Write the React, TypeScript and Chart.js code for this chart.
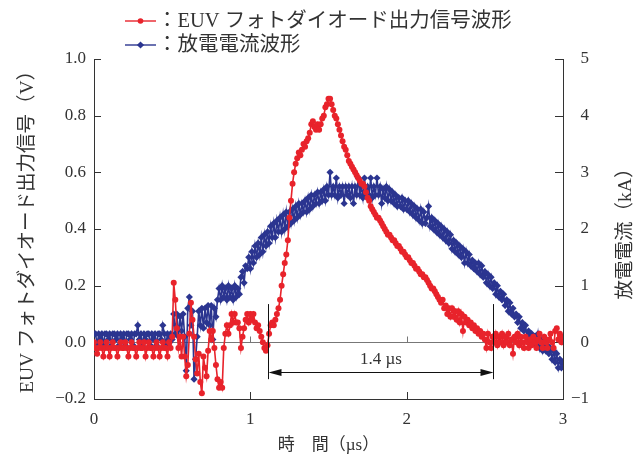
import React, { useEffect, useRef } from "react";
import { Chart, registerables } from "chart.js";

Chart.register(...registerables);

// ---- data ----
const timeStart = 0; // µs
const timeStep = 0.01; // µs
const xTickValues = [0, 1, 2, 3];
const leftTickValues = [-0.2, 0, 0.2, 0.4, 0.6, 0.8, 1.0];
const rightTickValues = [-1, 0, 1, 2, 3, 4, 5];

const euvLabel = "：EUV フォトダイオード出力信号波形";
const currentLabel = "：放電電流波形";
const xTitle = "時　間（µs）";
const leftTitle = "EUV フォトダイオード出力信号（V）";
const rightTitle = "放電電流（kA）";
const spanLabel = "1.4 µs";
const spanStart = 1.11; // µs
const spanEnd = 2.55; // µs

// EUV photodiode signal (V), t = 0.00 ... 3.00 µs
const euvSignal = [
  0.00, -0.02, -0.04, -0.02, 0.00, -0.02, -0.05, -0.02, 0.00, -0.02,
  -0.05, -0.02, 0.00, -0.02, -0.02, -0.05, -0.02, 0.00, -0.02, -0.02,
  0.00, -0.02, -0.05, -0.02, 0.00, -0.02, -0.02, -0.05, -0.02, 0.00,
  -0.02, -0.02, 0.00, -0.05, -0.02, 0.00, -0.02, -0.02, -0.05, -0.02,
  0.00, -0.02, -0.05, -0.02, 0.00, -0.02, -0.02, -0.05, 0.00, -0.02,
  0.02, 0.21, 0.15, 0.05, -0.02, 0.02, -0.05, 0.02, -0.05, -0.12,
  -0.08, 0.03, 0.14, 0.08, 0.02, -0.06, -0.11, -0.04, -0.14, -0.18,
  -0.05, -0.09, -0.12, -0.03, 0.04, 0.01, 0.04, -0.02, -0.08, -0.13,
  -0.16, -0.14, -0.16, -0.02, 0.03, 0.06, 0.03, 0.06, 0.10, 0.07,
  0.10, 0.07, 0.07, 0.05, -0.02, 0.02, 0.05, 0.08, 0.10, 0.07,
  0.10, 0.08, 0.10, 0.07, 0.05, 0.06, 0.04, 0.02, 0.00, -0.02,
  -0.03, -0.01, 0.03, 0.06, 0.07, 0.06, 0.08, 0.10, 0.12, 0.15,
  0.20, 0.24, 0.28, 0.31, 0.36, 0.44, 0.50, 0.56, 0.60, 0.63,
  0.65, 0.67, 0.66, 0.68, 0.70, 0.69, 0.71, 0.72, 0.74, 0.77,
  0.78, 0.76, 0.75, 0.77, 0.75, 0.77, 0.79, 0.80, 0.83, 0.84,
  0.86, 0.86, 0.84, 0.82, 0.80, 0.79, 0.77, 0.75, 0.73, 0.71,
  0.69, 0.68, 0.66, 0.64, 0.63, 0.62, 0.61, 0.60, 0.59, 0.58,
  0.57, 0.56, 0.56, 0.55, 0.53, 0.51, 0.50, 0.48, 0.47, 0.46,
  0.45, 0.44, 0.44, 0.43, 0.42, 0.41, 0.40, 0.39, 0.38, 0.38,
  0.37, 0.36, 0.36, 0.35, 0.34, 0.34, 0.33, 0.32, 0.32, 0.31,
  0.30, 0.30, 0.29, 0.28, 0.28, 0.27, 0.26, 0.26, 0.25, 0.24,
  0.24, 0.23, 0.23, 0.22, 0.21, 0.20, 0.19, 0.19, 0.18, 0.17,
  0.16, 0.15, 0.14, 0.15, 0.12, 0.13, 0.10, 0.12, 0.09, 0.12,
  0.09, 0.11, 0.08, 0.11, 0.07, 0.10, 0.04, 0.09, 0.07, 0.08,
  0.06, 0.07, 0.05, 0.06, 0.04, 0.05, 0.03, 0.04, 0.02, 0.03,
  0.01, -0.02, 0.03, 0.00, -0.02, 0.02, 0.00, 0.03, -0.01, 0.02,
  0.00, 0.03, -0.01, 0.02, 0.00, 0.03, -0.01, 0.01, -0.04, 0.02,
  0.00, 0.03, -0.01, 0.02, 0.00, -0.02, 0.02, 0.00, -0.02, 0.01,
  -0.01, 0.02, 0.00, -0.02, 0.01, 0.03, 0.00, -0.02, 0.02, 0.00,
  -0.02, 0.01, 0.03, 0.00, -0.02, 0.04, 0.05, 0.01, 0.03, 0.00,
  0.02,
];

// Discharge current (kA), t = 0.00 ... 3.00 µs
const dischargeCurrent = [
  0.15, 0.15, -0.05, 0.15, 0.05, 0.15, -0.05, 0.15, 0.15, 0.05,
  0.15, -0.05, 0.15, 0.15, 0.05, 0.15, -0.05, 0.15, 0.05, 0.15,
  -0.05, 0.15, 0.15, 0.05, 0.15, -0.05, 0.15, 0.15, 0.30, 0.05,
  0.15, -0.05, 0.15, 0.05, 0.15, 0.15, -0.05, 0.15, 0.05, 0.15,
  -0.05, 0.15, 0.15, 0.05, 0.30, 0.15, -0.05, 0.15, 0.05, 0.15,
  0.05, 0.50, 0.15, 0.50, 0.10, 0.45, 0.20, 0.50, 0.10, -0.50,
  0.60, 0.80, 0.30, 0.55, -0.65, -0.30, 0.10, 0.55, 0.30, 0.60,
  0.25, 0.60, 0.35, 0.65, 0.30, 0.65, 0.05, 0.60, 0.45, 0.75,
  0.95, 0.75, 1.00, 0.80, 0.95, 0.75, 1.00, 0.80, 0.95, 0.75,
  1.00, 0.80, 0.95, 0.85, 1.15, 1.25, 1.05, 1.35, 1.30, 1.50,
  1.30, 1.60, 1.40, 1.70, 1.50, 1.75, 1.55, 1.85, 1.60, 1.90,
  1.70, 1.95, 1.75, 2.05, 1.85, 2.10, 1.85, 2.15, 1.95, 2.20,
  1.95, 2.25, 2.00, 2.30, 2.05, 2.30, 2.10, 2.35, 2.15, 2.40,
  2.20, 2.45, 2.25, 2.45, 2.30, 2.50, 2.30, 2.55, 2.35, 2.60,
  2.40, 2.60, 2.45, 2.65, 2.45, 2.65, 2.50, 2.70, 2.50, 2.75,
  2.60, 3.00, 2.60, 2.75, 2.60, 2.90, 2.55, 2.75, 2.60, 2.75,
  2.45, 2.75, 2.60, 2.75, 2.55, 2.75, 2.45, 2.75, 2.60, 2.90,
  2.60, 2.75, 2.55, 2.90, 2.60, 2.75, 2.60, 2.90, 2.55, 2.75,
  2.60, 2.90, 2.60, 2.75, 2.45, 2.70, 2.55, 2.75, 2.50, 2.70,
  2.50, 2.65, 2.45, 2.60, 2.40, 2.55, 2.40, 2.55, 2.35, 2.50,
  2.35, 2.50, 2.30, 2.45, 2.25, 2.40, 2.20, 2.35, 2.15, 2.35,
  2.10, 2.30, 2.10, 2.20, 2.40, 2.05, 2.20, 2.00, 2.15, 1.95,
  2.10, 1.90, 2.05, 1.85, 2.00, 1.80, 1.95, 1.75, 1.90, 1.65,
  1.80, 1.60, 1.75, 1.55, 1.70, 1.50, 1.65, 1.40, 1.60, 1.40,
  1.55, 1.35, 1.45, 1.30, 1.40, 1.25, 1.40, 1.20, 1.35, 1.15,
  1.25, 1.05, 1.20, 1.00, 1.15, 0.95, 1.05, 0.85, 1.00, 0.80,
  0.90, 0.75, 0.85, 0.65, 0.75, 0.55, 0.70, 0.50, 0.60, 0.45,
  0.50, 0.35, 0.45, 0.25, 0.35, 0.20, 0.30, 0.10, 0.20, 0.05,
  0.15, 0.00, 0.10, -0.05, 0.15, -0.10, 0.05, -0.15, 0.00, -0.15,
  -0.05, -0.20, -0.10, -0.30, -0.15, -0.35, -0.20, -0.45, -0.30, -0.45,
  -0.35,
];

// ---- styles ----
const RED = "#e8232b";
const BLUE = "#2b3590";
const INK = "#333333";
const SERIF = '"Liberation Serif", "Times New Roman", "Noto Sans CJK JP", serif';

const toPoints = (vals: number[]) =>
  vals.map((v, i) => ({ x: Number((timeStart + i * timeStep).toFixed(2)), y: v }));

const fmtMinus = (s: string) => s.replace("-", "\u2212");

function line(ctx: CanvasRenderingContext2D, x1: number, y1: number, x2: number, y2: number) {
  ctx.beginPath();
  ctx.moveTo(x1, y1);
  ctx.lineTo(x2, y2);
  ctx.stroke();
}

const decorPlugin = {
  id: "decor",
  beforeDatasetsDraw(chart: any) {
    const { ctx, chartArea: a, scales } = chart;
    const xs = scales.x, ys = scales.y, y1s = scales.y1;
    ctx.save();
    ctx.lineWidth = 1;
    // zero reference line
    const y0 = Math.round(ys.getPixelForValue(0)) + 0.5;
    ctx.strokeStyle = "#777";
    line(ctx, a.left, y0, a.right, y0);
    for (const t of [1, 2]) {
      const px = Math.round(xs.getPixelForValue(t)) + 0.5;
      line(ctx, px, y0, px, y0 - 6);
    }
    // inward tick marks
    ctx.strokeStyle = INK;
    for (const t of xTickValues) {
      const px = Math.round(xs.getPixelForValue(t)) + 0.5;
      line(ctx, px, a.bottom, px, a.bottom - 7);
    }
    for (const v of leftTickValues) {
      const py = Math.round(ys.getPixelForValue(v)) + 0.5;
      line(ctx, a.left, py, a.left + 7, py);
    }
    for (const v of rightTickValues) {
      const py = Math.round(y1s.getPixelForValue(v)) + 0.5;
      line(ctx, a.right, py, a.right - 8, py);
    }
    ctx.restore();
  },
  afterDatasetsDraw(chart: any) {
    const { ctx, scales } = chart;
    const xs = scales.x, ys = scales.y;
    ctx.save();
    ctx.strokeStyle = "#111";
    ctx.fillStyle = "#111";
    ctx.lineWidth = 1;
    const xa = Math.round(xs.getPixelForValue(spanStart)) + 0.5;
    const xb = Math.round(xs.getPixelForValue(spanEnd)) + 0.5;
    const yTop = ys.getPixelForValue(0.135);
    const yBot = ys.getPixelForValue(-0.13);
    const yArr = Math.round(ys.getPixelForValue(-0.106)) + 0.5;
    line(ctx, xa, yTop, xa, yBot);
    line(ctx, xb, yTop, xb, yBot);
    line(ctx, xa + 10, yArr, xb - 10, yArr);
    ctx.beginPath();
    ctx.moveTo(xa, yArr);
    ctx.lineTo(xa + 13, yArr - 3.5);
    ctx.lineTo(xa + 13, yArr + 3.5);
    ctx.closePath();
    ctx.fill();
    ctx.beginPath();
    ctx.moveTo(xb, yArr);
    ctx.lineTo(xb - 13, yArr - 3.5);
    ctx.lineTo(xb - 13, yArr + 3.5);
    ctx.closePath();
    ctx.fill();
    ctx.fillStyle = INK;
    ctx.font = `17px ${SERIF}`;
    ctx.textAlign = "center";
    ctx.textBaseline = "middle";
    ctx.fillText(spanLabel, (xa + xb) / 2, ys.getPixelForValue(-0.06));
    ctx.restore();
  },
  afterDraw(chart: any) {
    const { ctx, chartArea: a } = chart;
    ctx.save();
    // legend
    const items = [
      { label: euvLabel, color: RED, y: 21, style: "circle" },
      { label: currentLabel, color: BLUE, y: 45, style: "diamond" },
    ];
    for (const it of items) {
      ctx.strokeStyle = it.color;
      ctx.fillStyle = it.color;
      ctx.lineWidth = 1.4;
      line(ctx, 125, it.y, 156, it.y);
      ctx.beginPath();
      if (it.style === "circle") {
        ctx.arc(140.5, it.y, 2.8, 0, Math.PI * 2);
      } else {
        ctx.moveTo(140.5, it.y - 3.6);
        ctx.lineTo(144.1, it.y);
        ctx.lineTo(140.5, it.y + 3.6);
        ctx.lineTo(136.9, it.y);
        ctx.closePath();
      }
      ctx.fill();
      ctx.fillStyle = INK;
      ctx.font = `20.5px ${SERIF}`;
      ctx.textAlign = "left";
      ctx.textBaseline = "middle";
      ctx.fillText(it.label, 157, it.y + 1);
    }
    // axis titles
    ctx.fillStyle = INK;
    ctx.font = `17px ${SERIF}`;
    ctx.textAlign = "center";
    ctx.textBaseline = "middle";
    ctx.fillText(xTitle, (a.left + a.right) / 2, 446);
    ctx.font = `19.5px ${SERIF}`;
    ctx.save();
    ctx.translate(28, 227);
    ctx.rotate(-Math.PI / 2);
    ctx.fillText(leftTitle, 0, 0);
    ctx.restore();
    ctx.save();
    ctx.translate(626, 229);
    ctx.rotate(-Math.PI / 2);
    ctx.fillText(rightTitle, 0, 0);
    ctx.restore();
    ctx.restore();
  },
};

export default function App() {
  const canvasRef = useRef<HTMLCanvasElement | null>(null);

  useEffect(() => {
    const canvas = canvasRef.current;
    if (!canvas) return;
    const tickFont = { family: SERIF, size: 17 };
    const chart = new Chart(canvas, {
      type: "line",
      data: {
        datasets: [
          {
            label: euvLabel,
            data: toPoints(euvSignal),
            yAxisID: "y",
            borderColor: RED,
            backgroundColor: RED,
            borderWidth: 1.6,
            pointStyle: "circle",
            pointRadius: 3,
            pointBorderWidth: 0,
            pointBackgroundColor: RED,
            tension: 0,
          },
          {
            label: currentLabel,
            data: toPoints(dischargeCurrent),
            yAxisID: "y1",
            borderColor: BLUE,
            backgroundColor: BLUE,
            borderWidth: 1.6,
            pointStyle: "rectRot",
            pointRadius: 3.6,
            pointBorderWidth: 0,
            pointBackgroundColor: BLUE,
            tension: 0,
          },
        ],
      },
      options: {
        animation: false,
        responsive: false,
        events: [],
        layout: { padding: { top: 59, right: 48, left: 0, bottom: 0 } },
        plugins: { legend: { display: false }, tooltip: { enabled: false } },
        scales: {
          x: {
            type: "linear",
            min: 0,
            max: 3,
            afterBuildTicks: (s: any) => {
              s.ticks = xTickValues.map((v) => ({ value: v }));
            },
            ticks: { font: tickFont, color: INK, padding: 10, maxRotation: 0, autoSkip: false },
            grid: { display: false, drawTicks: false },
            border: { display: true, color: INK, width: 1 },
            afterFit: (s: any) => {
              s.height = 63;
            },
          },
          y: {
            position: "left",
            min: -0.2,
            max: 1.0,
            afterBuildTicks: (s: any) => {
              s.ticks = leftTickValues.map((v) => ({ value: v }));
            },
            ticks: {
              font: tickFont,
              color: INK,
              padding: 8,
              callback: (v: any) => fmtMinus(Number(v).toFixed(1)),
            },
            grid: { display: false, drawTicks: false },
            border: { display: true, color: INK, width: 1 },
            afterFit: (s: any) => {
              s.width = 94;
            },
          },
          y1: {
            position: "right",
            min: -1,
            max: 5,
            afterBuildTicks: (s: any) => {
              s.ticks = rightTickValues.map((v) => ({ value: v }));
            },
            ticks: {
              font: tickFont,
              color: INK,
              crossAlign: "far",
              callback: (v: any) => fmtMinus(String(v)),
            },
            grid: { display: false, drawTicks: false },
            border: { display: true, color: INK, width: 1 },
            afterFit: (s: any) => {
              s.width = 26;
            },
          },
        },
      },
      plugins: [decorPlugin],
    } as any);
    return () => chart.destroy();
  }, []);

  return (
    <div style={{ position: "fixed", left: 0, top: 0, width: 637, height: 462, background: "#fff" }}>
      <canvas ref={canvasRef} width={637} height={462} style={{ display: "block" }} />
    </div>
  );
}
